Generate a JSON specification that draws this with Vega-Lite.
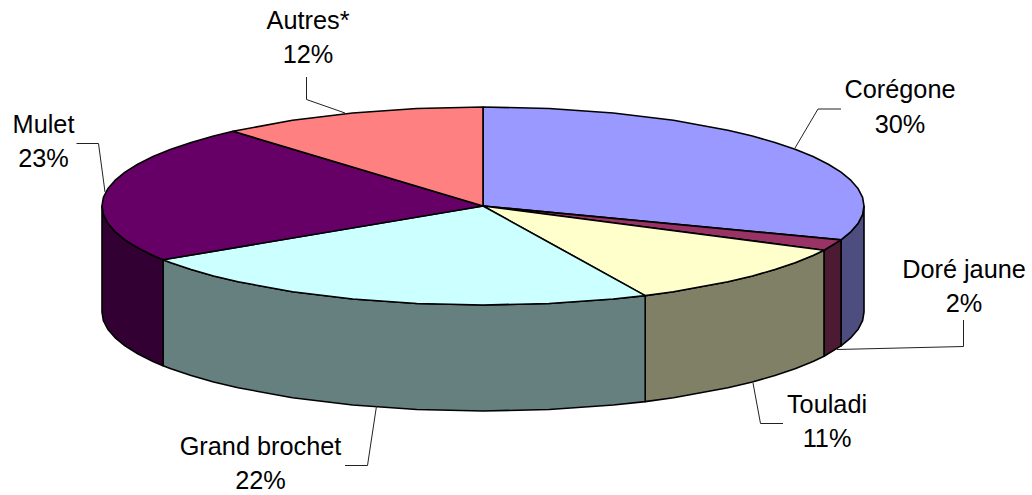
{
"$schema":"https://vega.github.io/schema/vega-lite/v6.json",
"width":1032,"height":495,"padding":0,"autosize":{"type":"none"},
"background":"white",
"view":{"stroke":null},
"config":{"font":"Liberation Sans"},
"layer":[
{"data":{"values":[
{"part":"Corégone côté","seq":1,"x":864,"y":206},{"part":"Corégone côté","seq":2,"x":858.2,"y":223.2},{"part":"Corégone côté","seq":3,"x":841,"y":239.9},{"part":"Corégone côté","seq":4,"x":841,"y":345.9},{"part":"Corégone côté","seq":5,"x":858.2,"y":329.2},{"part":"Corégone côté","seq":6,"x":864,"y":312},{"part":"Corégone côté","seq":7,"x":864,"y":206},
{"part":"Corégone côté","seq":1.5,"x":862.6,"y":214.6},{"part":"Corégone côté","seq":2.5,"x":851,"y":231.6},{"part":"Corégone côté","seq":4.5,"x":851,"y":337.6},{"part":"Corégone côté","seq":5.5,"x":862.6,"y":320.6},
{"part":"Doré jaune côté","seq":1,"x":841,"y":239.9},{"part":"Doré jaune côté","seq":2,"x":824,"y":250.2},{"part":"Doré jaune côté","seq":3,"x":824,"y":356.2},{"part":"Doré jaune côté","seq":4,"x":841,"y":345.9},{"part":"Doré jaune côté","seq":5,"x":841,"y":239.9},
{"part":"Touladi côté","seq":1,"x":824,"y":250.2},{"part":"Touladi côté","seq":2,"x":813,"y":255.5},{"part":"Touladi côté","seq":3,"x":774.9,"y":269.6},{"part":"Touladi côté","seq":4,"x":727.9,"y":281.8},{"part":"Touladi côté","seq":5,"x":673.5,"y":291.7},{"part":"Touladi côté","seq":6,"x":645.2,"y":295.6},{"part":"Touladi côté","seq":7,"x":645.2,"y":401.6},{"part":"Touladi côté","seq":8,"x":673.5,"y":397.7},{"part":"Touladi côté","seq":9,"x":727.9,"y":387.8},{"part":"Touladi côté","seq":10,"x":774.9,"y":375.6},{"part":"Touladi côté","seq":11,"x":813,"y":361.5},{"part":"Touladi côté","seq":12,"x":824,"y":356.2},{"part":"Touladi côté","seq":13,"x":824,"y":250.2},
{"part":"Touladi côté","seq":2.5,"x":795.1,"y":262.8},{"part":"Touladi côté","seq":3.5,"x":752.4,"y":276},{"part":"Touladi côté","seq":9.5,"x":752.4,"y":382},{"part":"Touladi côté","seq":10.5,"x":795.1,"y":368.8},
{"part":"Grand brochet côté","seq":1,"x":645.2,"y":295.6},{"part":"Grand brochet côté","seq":2,"x":613.3,"y":299},{"part":"Grand brochet côté","seq":3,"x":549.2,"y":303.5},{"part":"Grand brochet côté","seq":4,"x":483,"y":305},{"part":"Grand brochet côté","seq":5,"x":416.8,"y":303.5},{"part":"Grand brochet côté","seq":6,"x":352.7,"y":299},{"part":"Grand brochet côté","seq":7,"x":292.5,"y":291.7},{"part":"Grand brochet côté","seq":8,"x":238.1,"y":281.8},{"part":"Grand brochet côté","seq":9,"x":191.1,"y":269.6},{"part":"Grand brochet côté","seq":10,"x":163,"y":259.8},{"part":"Grand brochet côté","seq":11,"x":163,"y":365.8},{"part":"Grand brochet côté","seq":12,"x":191.1,"y":375.6},{"part":"Grand brochet côté","seq":13,"x":238.1,"y":387.8},{"part":"Grand brochet côté","seq":14,"x":292.5,"y":397.7},{"part":"Grand brochet côté","seq":15,"x":352.7,"y":405},{"part":"Grand brochet côté","seq":16,"x":416.8,"y":409.5},{"part":"Grand brochet côté","seq":17,"x":483,"y":411},{"part":"Grand brochet côté","seq":18,"x":549.2,"y":409.5},{"part":"Grand brochet côté","seq":19,"x":613.3,"y":405},{"part":"Grand brochet côté","seq":20,"x":645.2,"y":401.6},{"part":"Grand brochet côté","seq":21,"x":645.2,"y":295.6},
{"part":"Grand brochet côté","seq":8.5,"x":213.6,"y":276},{"part":"Grand brochet côté","seq":9.5,"x":170.9,"y":262.8},{"part":"Grand brochet côté","seq":11.5,"x":170.9,"y":368.8},{"part":"Grand brochet côté","seq":12.5,"x":213.6,"y":382},
{"part":"Mulet côté","seq":1,"x":163,"y":259.8},{"part":"Mulet côté","seq":2,"x":153,"y":255.5},{"part":"Mulet côté","seq":3,"x":125,"y":239.9},{"part":"Mulet côté","seq":4,"x":107.8,"y":223.2},{"part":"Mulet côté","seq":5,"x":102,"y":206},{"part":"Mulet côté","seq":6,"x":102,"y":312},{"part":"Mulet côté","seq":7,"x":107.8,"y":329.2},{"part":"Mulet côté","seq":8,"x":125,"y":345.9},{"part":"Mulet côté","seq":9,"x":153,"y":361.5},{"part":"Mulet côté","seq":10,"x":163,"y":365.8},{"part":"Mulet côté","seq":11,"x":163,"y":259.8},
{"part":"Mulet côté","seq":2.5,"x":137.7,"y":247.8},{"part":"Mulet côté","seq":3.5,"x":115,"y":231.6},{"part":"Mulet côté","seq":4.5,"x":103.4,"y":214.6},{"part":"Mulet côté","seq":6.5,"x":103.4,"y":320.6},{"part":"Mulet côté","seq":7.5,"x":115,"y":337.6},{"part":"Mulet côté","seq":8.5,"x":137.7,"y":353.8},
{"part":"Corégone","seq":0,"x":483,"y":206},{"part":"Corégone","seq":1,"x":483,"y":107},{"part":"Corégone","seq":2,"x":549.2,"y":108.5},{"part":"Corégone","seq":3,"x":613.3,"y":113},{"part":"Corégone","seq":4,"x":673.5,"y":120.3},{"part":"Corégone","seq":5,"x":727.9,"y":130.2},{"part":"Corégone","seq":6,"x":774.9,"y":142.4},{"part":"Corégone","seq":7,"x":813,"y":156.5},{"part":"Corégone","seq":8,"x":841,"y":172.1},{"part":"Corégone","seq":9,"x":858.2,"y":188.8},{"part":"Corégone","seq":10,"x":864,"y":206},{"part":"Corégone","seq":11,"x":858.2,"y":223.2},{"part":"Corégone","seq":12,"x":841,"y":239.9},{"part":"Corégone","seq":13,"x":483,"y":206},
{"part":"Corégone","seq":5.5,"x":752.4,"y":136},{"part":"Corégone","seq":6.5,"x":795.1,"y":149.2},{"part":"Corégone","seq":7.5,"x":828.3,"y":164.2},{"part":"Corégone","seq":8.5,"x":851,"y":180.4},{"part":"Corégone","seq":9.5,"x":862.6,"y":197.4},{"part":"Corégone","seq":10.5,"x":862.6,"y":214.6},{"part":"Corégone","seq":11.5,"x":851,"y":231.6},
{"part":"Doré jaune","seq":0,"x":483,"y":206},{"part":"Doré jaune","seq":1,"x":841,"y":239.9},{"part":"Doré jaune","seq":2,"x":824,"y":250.2},{"part":"Doré jaune","seq":3,"x":483,"y":206},
{"part":"Touladi","seq":0,"x":483,"y":206},{"part":"Touladi","seq":1,"x":824,"y":250.2},{"part":"Touladi","seq":2,"x":813,"y":255.5},{"part":"Touladi","seq":3,"x":774.9,"y":269.6},{"part":"Touladi","seq":4,"x":727.9,"y":281.8},{"part":"Touladi","seq":5,"x":673.5,"y":291.7},{"part":"Touladi","seq":6,"x":645.2,"y":295.6},{"part":"Touladi","seq":7,"x":483,"y":206},
{"part":"Touladi","seq":2.5,"x":795.1,"y":262.8},{"part":"Touladi","seq":3.5,"x":752.4,"y":276},
{"part":"Grand brochet","seq":0,"x":483,"y":206},{"part":"Grand brochet","seq":1,"x":645.2,"y":295.6},{"part":"Grand brochet","seq":2,"x":613.3,"y":299},{"part":"Grand brochet","seq":3,"x":549.2,"y":303.5},{"part":"Grand brochet","seq":4,"x":483,"y":305},{"part":"Grand brochet","seq":5,"x":416.8,"y":303.5},{"part":"Grand brochet","seq":6,"x":352.7,"y":299},{"part":"Grand brochet","seq":7,"x":292.5,"y":291.7},{"part":"Grand brochet","seq":8,"x":238.1,"y":281.8},{"part":"Grand brochet","seq":9,"x":191.1,"y":269.6},{"part":"Grand brochet","seq":10,"x":163,"y":259.8},{"part":"Grand brochet","seq":11,"x":483,"y":206},
{"part":"Grand brochet","seq":8.5,"x":213.6,"y":276},{"part":"Grand brochet","seq":9.5,"x":170.9,"y":262.8},
{"part":"Mulet","seq":0,"x":483,"y":206},{"part":"Mulet","seq":1,"x":163,"y":259.8},{"part":"Mulet","seq":2,"x":153,"y":255.5},{"part":"Mulet","seq":3,"x":125,"y":239.9},{"part":"Mulet","seq":4,"x":107.8,"y":223.2},{"part":"Mulet","seq":5,"x":102,"y":206},{"part":"Mulet","seq":6,"x":107.8,"y":188.8},{"part":"Mulet","seq":7,"x":125,"y":172.1},{"part":"Mulet","seq":8,"x":153,"y":156.5},{"part":"Mulet","seq":9,"x":191.1,"y":142.4},{"part":"Mulet","seq":10,"x":233,"y":131.3},{"part":"Mulet","seq":11,"x":483,"y":206},
{"part":"Mulet","seq":2.5,"x":137.7,"y":247.8},{"part":"Mulet","seq":3.5,"x":115,"y":231.6},{"part":"Mulet","seq":4.5,"x":103.4,"y":214.6},{"part":"Mulet","seq":5.5,"x":103.4,"y":197.4},{"part":"Mulet","seq":6.5,"x":115,"y":180.4},{"part":"Mulet","seq":7.5,"x":137.7,"y":164.2},{"part":"Mulet","seq":8.5,"x":170.9,"y":149.2},{"part":"Mulet","seq":9.5,"x":213.6,"y":136},
{"part":"Autres*","seq":0,"x":483,"y":206},{"part":"Autres*","seq":1,"x":233,"y":131.3},{"part":"Autres*","seq":2,"x":292.5,"y":120.3},{"part":"Autres*","seq":3,"x":352.7,"y":113},{"part":"Autres*","seq":4,"x":416.8,"y":108.5},{"part":"Autres*","seq":5,"x":483,"y":107},{"part":"Autres*","seq":6,"x":483,"y":206}
]},
"mark":{"type":"line","stroke":"#000000","strokeWidth":1.6,"strokeJoin":"round","clip":false},
"encoding":{
"x":{"field":"x","type":"quantitative","scale":{"domain":[0,1032],"range":[0,1032]},"axis":null},
"y":{"field":"y","type":"quantitative","scale":{"domain":[0,495],"range":[0,495]},"axis":null},
"order":{"field":"seq","type":"quantitative"},
"fill":{"field":"part","type":"nominal","legend":null,"scale":{
"domain":["Corégone","Doré jaune","Touladi","Grand brochet","Mulet","Autres*","Corégone côté","Doré jaune côté","Touladi côté","Grand brochet côté","Mulet côté"],
"range":["#9999FF","#993366","#FFFFCC","#CCFFFF","#660066","#FF8080","#4D4D80","#4D1A33","#808066","#668080","#330033"]}}
}},
{"data":{"values":[
{"leader":"Corégone","seq":1,"x":795,"y":148},{"leader":"Corégone","seq":2,"x":818,"y":109},{"leader":"Corégone","seq":3,"x":841,"y":109},
{"leader":"Autres*","seq":1,"x":306.5,"y":77},{"leader":"Autres*","seq":2,"x":306.5,"y":99.5},{"leader":"Autres*","seq":3,"x":345,"y":113},
{"leader":"Mulet","seq":1,"x":76.5,"y":143.5},{"leader":"Mulet","seq":2,"x":98.5,"y":143.5},{"leader":"Mulet","seq":3,"x":105,"y":192},
{"leader":"Doré jaune","seq":1,"x":837,"y":349.5},{"leader":"Doré jaune","seq":2,"x":963.5,"y":346.5},{"leader":"Doré jaune","seq":3,"x":963.5,"y":320},
{"leader":"Touladi","seq":1,"x":753,"y":383},{"leader":"Touladi","seq":2,"x":760.5,"y":423.5},{"leader":"Touladi","seq":3,"x":783,"y":423.5},
{"leader":"Grand brochet","seq":1,"x":376.5,"y":406},{"leader":"Grand brochet","seq":2,"x":367.5,"y":465.5},{"leader":"Grand brochet","seq":3,"x":345,"y":465.5}
]},
"mark":{"type":"line","stroke":"#222222","strokeWidth":1},
"encoding":{
"x":{"field":"x","type":"quantitative","scale":{"domain":[0,1032],"range":[0,1032]},"axis":null},
"y":{"field":"y","type":"quantitative","scale":{"domain":[0,495],"range":[0,495]},"axis":null},
"order":{"field":"seq","type":"quantitative"},
"detail":{"field":"leader","type":"nominal"}
}},
{"data":{"values":[
{"label":"Corégone","x":900,"y":98},{"label":"30%","x":900,"y":133},
{"label":"Autres*","x":308,"y":29},{"label":"12%","x":308,"y":63},
{"label":"Mulet","x":43.5,"y":133},{"label":"23%","x":43.5,"y":167},
{"label":"Doré jaune","x":964,"y":278},{"label":"2%","x":964,"y":312},
{"label":"Touladi","x":827,"y":413},{"label":"11%","x":827,"y":447},
{"label":"Grand brochet","x":260.5,"y":455},{"label":"22%","x":260.5,"y":489}
]},
"mark":{"type":"text","font":"Liberation Sans","fontSize":25.3,"align":"center","baseline":"alphabetic","color":"#000000"},
"encoding":{
"x":{"field":"x","type":"quantitative","scale":{"domain":[0,1032],"range":[0,1032]},"axis":null},
"y":{"field":"y","type":"quantitative","scale":{"domain":[0,495],"range":[0,495]},"axis":null},
"text":{"field":"label","type":"nominal"}
}}
]
}
